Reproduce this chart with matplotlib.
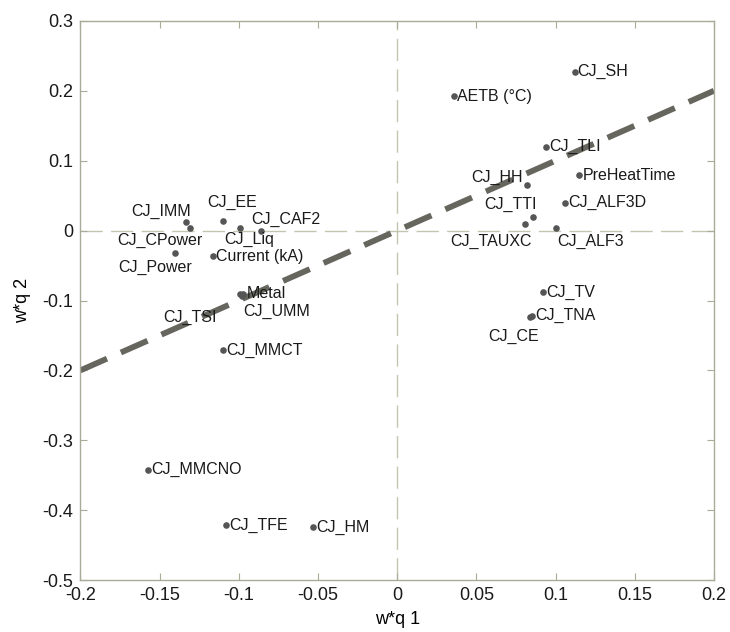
import matplotlib
matplotlib.use("Agg")
import matplotlib.pyplot as plt

plt.rcParams['font.family'] = ['Liberation Sans', 'DejaVu Sans']

# loadings on the first two components
names = ["AETB (°C)", "CJ_SH", "CJ_TLI", "PreHeatTime", "CJ_HH", "CJ_ALF3D",
         "CJ_TTI", "CJ_TAUXC", "CJ_ALF3", "CJ_TV", "CJ_TNA", "CJ_CE",
         "CJ_IMM", "CJ_CPower", "CJ_EE", "CJ_Liq", "CJ_CAF2", "CJ_Power",
         "Current (kA)", "Metal", "CJ_UMM", "CJ_TSI", "CJ_MMCT", "CJ_MMCNO",
         "CJ_TFE", "CJ_HM"]
wq1 = [0.036, 0.112, 0.094, 0.115, 0.082, 0.106,
       0.086, 0.081, 0.100, 0.092, 0.085, 0.084,
       -0.133, -0.131, -0.110, -0.099, -0.086, -0.140,
       -0.116, -0.097, -0.098, -0.099, -0.110, -0.157,
       -0.108, -0.053]
wq2 = [0.192, 0.227, 0.120, 0.079, 0.065, 0.040,
       0.019, 0.010, 0.004, -0.088, -0.122, -0.123,
       0.013, 0.004, 0.014, 0.004, 0.000, -0.032,
       -0.037, -0.090, -0.093, -0.090, -0.171, -0.342,
       -0.421, -0.424]
diag = [-0.2, 0.2]

# label offsets (pixels) for the crowded labels, default is right of the dot
offsets = {
    "CJ_HH": (-30, 8),
    "CJ_TTI": (-23, 13),
    "CJ_TAUXC": (-34, -18),
    "CJ_ALF3": (35, -14),
    "CJ_CE": (-17, -20),
    "CJ_IMM": (-25, 10),
    "CJ_CPower": (-30, -13),
    "CJ_EE": (9, 18),
    "CJ_Liq": (9, -12),
    "CJ_CAF2": (25, 11),
    "CJ_Power": (-20, -14),
    "CJ_UMM": (35, -16),
    "CJ_TSI": (-50, -24),
}

fig = plt.figure(figsize=(7.3, 6.32), dpi=100)
ax = fig.add_axes([0.110, 0.082, 0.868, 0.885])

spine_col = "#a9aa98"
ax.axhline(0, color="#c4c5b0", lw=1.0, dashes=(16, 6), zorder=1)
ax.axvline(0, color="#c4c5b0", lw=1.0, dashes=(16, 6), zorder=1)
ax.plot(diag, diag, color="#66665e", lw=4.2, dashes=(5, 2.6), zorder=2)

ax.scatter(wq1, wq2, s=14, color="#555555", zorder=3)

for n, x, y in zip(names, wq1, wq2):
    if n in offsets:
        dx, dy = offsets[n]
        ha = "center"
    else:
        dx, dy, ha = 3, 0, "left"
    ax.annotate(n, (x, y), xytext=(dx * 0.72, dy * 0.72),
                textcoords="offset points", ha=ha, va="center",
                fontsize=11.5, color="#1a1a1a", zorder=4)

ax.set_xlim(-0.2, 0.2)
ax.set_ylim(-0.5, 0.3)
ax.set_xticks([-0.2, -0.15, -0.1, -0.05, 0, 0.05, 0.1, 0.15, 0.2])
ax.set_xticklabels(["-0.2", "-0.15", "-0.1", "-0.05", "0", "0.05", "0.1", "0.15", "0.2"])
ax.set_yticks([-0.5, -0.4, -0.3, -0.2, -0.1, 0, 0.1, 0.2, 0.3])
ax.set_yticklabels(["-0.5", "-0.4", "-0.3", "-0.2", "-0.1", "0", "0.1", "0.2", "0.3"])
ax.tick_params(direction="in", top=True, right=True, length=5, width=0.8,
               color=spine_col, labelsize=13, labelcolor="#1a1a1a", pad=5)
for s in ax.spines.values():
    s.set_color(spine_col)
    s.set_linewidth(1.0)

ax.set_xlabel("w*q 1", fontsize=13, labelpad=5)
ax.set_ylabel("w*q 2", fontsize=13, labelpad=8)

fig.savefig("out.png", dpi=100)
